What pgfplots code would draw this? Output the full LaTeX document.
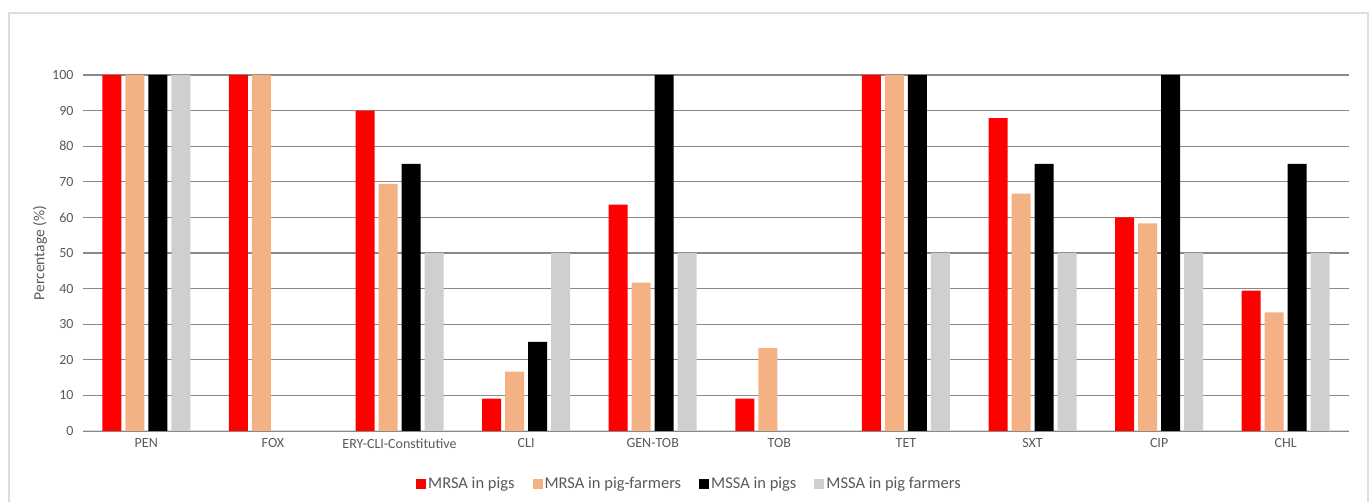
\documentclass[border=0pt]{standalone}
\usepackage{pgfplots}
\pgfplotsset{compat=1.18}
\usepackage{fontspec}
\setmainfont{Carlito}
\definecolor{mrsapig}{HTML}{FF0000}
\definecolor{mrsafarm}{HTML}{F4B183}
\definecolor{mssapig}{HTML}{000000}
\definecolor{mssafarm}{HTML}{D0CECE}
\definecolor{txt}{HTML}{595959}
\definecolor{gridc}{HTML}{898989}
\begin{document}
\begin{tikzpicture}[x=1pt,y=1pt]
\path (-83,-71) rectangle (1287,431);
\draw[color=black!13,line width=1.2pt] (-74,-71) -- (-74,418) -- (1285,418) -- (1285,-71);
\begin{axis}[
  scale only axis,
  width=1266pt, height=356pt,
  ybar=4pt, bar width=19pt,
  xmin=-0.5, xmax=9.5,
  ymin=0, ymax=100,
  ytick={0,10,...,100},
  xtick={0,...,9},
  xticklabels={PEN,FOX,ERY-CLI-Constitutive,CLI,GEN-TOB,TOB,TET,SXT,CIP,CHL},
  major tick length=0pt,
  axis x line*=bottom, axis y line*=left,
  y axis line style={draw=none},
  x axis line style={color=black!15,line width=1pt},
  ymajorgrids, major grid style={color=gridc,line width=1.1pt},
  /pgf/number format/assume math mode=true,
  tick label style={font=\fontsize{14}{16}\selectfont,color=txt},
  yticklabel style={xshift=-6pt},
  xticklabel style={yshift=-4pt},
  every axis y label/.style={at={(axis description cs:0,0.5)},xshift=-43pt,rotate=90,anchor=center,font=\fontsize{15.5}{18}\selectfont,color=txt},
  ylabel={Percentage (\%)},
  legend columns=4,
  legend style={at={(0.479,-0.149)},anchor=center,draw=none,fill=none,font=\fontsize{16.5}{19}\selectfont,text=txt,
    /tikz/every even column/.append style={column sep=16pt}},
  legend image code/.code={\fill[#1] (0pt,-5pt) rectangle (10pt,5pt);},
]
\addplot[fill=mrsapig,draw=none] coordinates {(0,100) (1,100) (2,90) (3,9.1) (4,63.6) (5,9.1) (6,100) (7,87.9) (8,60) (9,39.4)};
\addplot[fill=mrsafarm,draw=none] coordinates {(0,100) (1,100) (2,69.4) (3,16.7) (4,41.7) (5,23.3) (6,100) (7,66.7) (8,58.3) (9,33.3)};
\addplot[fill=mssapig,draw=none] coordinates {(0,100) (2,75) (3,25) (4,100) (6,100) (7,75) (8,100) (9,75)};
\addplot[fill=mssafarm,draw=none] coordinates {(0,100) (2,50) (3,50) (4,50) (6,50) (7,50) (8,50) (9,50)};
\legend{MRSA in pigs,MRSA in pig-farmers,MSSA in pigs,MSSA in pig farmers}
\end{axis}
\end{tikzpicture}
\end{document}
